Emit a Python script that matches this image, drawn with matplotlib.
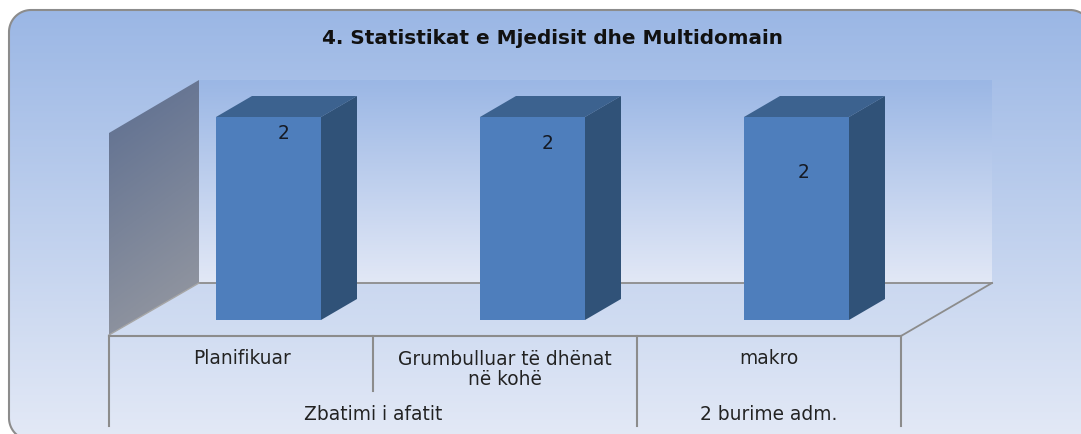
import matplotlib
matplotlib.use("Agg")
import matplotlib.pyplot as plt
import numpy as np
from matplotlib.patches import Polygon

# data
categories = ["Planifikuar", "Grumbulluar të dhënat\nnë kohë", "makro"]
groups = ["Zbatimi i afatit", "2 burime adm."]
values = [2, 2, 2]
title = "4. Statistikat e Mjedisit dhe Multidomain"

W, H = 1081, 434
GRAY = "#8c8c8c"


def rounded(x0, y0, x1, y1, r):
    # outline of a rounded box as plain vertices (curved patches clip badly at the canvas edge)
    t = np.linspace(0, np.pi / 2, 20)
    pts = []
    for cx, cy, a in [(x1 - r, y0 + r, -np.pi / 2), (x1 - r, y1 - r, 0),
                      (x0 + r, y1 - r, np.pi / 2), (x0 + r, y0 + r, np.pi)]:
        pts += list(zip(cx + r * np.cos(a + t), cy + r * np.sin(a + t)))
    return pts


def gradient(ax, patch, x0, x1, y0, y1, top, bottom, angle=0.0):
    # vertical gradient (with a small horizontal slant), clipped to the patch
    t = np.linspace(0, 1, 200)
    xx, yy = np.meshgrid(np.linspace(0, 1, 60), t)
    f = np.clip(yy + angle * (xx - 0.5), 0, 1)[..., None]
    img = np.array(top) / 255 * (1 - f) + np.array(bottom) / 255 * f
    im = ax.imshow(img, extent=(x0, x1, y1, y0), aspect="auto", zorder=patch.get_zorder())
    patch.set_facecolor("none")
    patch.set_edgecolor("none")
    ax.add_patch(patch)
    im.set_clip_path(patch)


fig = plt.figure(figsize=(W / 100, H / 100), dpi=100, facecolor="white")

# pixel layer for the card, the walls and the category table
bg = fig.add_axes([0, 0, 1, 1])
bg.set_axis_off()

outline = rounded(9, 10, 1092, 440, 22)
card = Polygon(outline, closed=True, zorder=1)
gradient(bg, card, 9, 1092, 10, 438, (155, 183, 229), (227, 233, 246))
bg.add_patch(Polygon(outline, closed=True, fc="none", ec=GRAY, lw=1.5, zorder=1.5))

wall = Polygon([(199, 80), (992, 80), (992, 283), (199, 283)], closed=True, zorder=2)
gradient(bg, wall, 199, 992, 80, 283, (155, 183, 229), (226, 232, 246))

left = Polygon([(109, 133), (199, 80), (199, 283), (109, 335)], closed=True, zorder=3)
gradient(bg, left, 109, 199, 80, 335, (98, 114, 146), (146, 150, 160), angle=0.25)

floor = Polygon([(109, 336), (901, 336), (992, 283), (199, 283)], closed=True, zorder=3)
gradient(bg, floor, 109, 992, 283, 336, (203, 216, 240), (209, 221, 242))

bg.plot([199, 992], [283, 283], color=GRAY, lw=1.3, zorder=4)
bg.plot([109, 199], [335, 283], color="#a6a6a6", lw=1.0, zorder=4)
bg.plot([901, 992], [336, 283], color=GRAY, lw=1.3, zorder=4)
bg.plot([109, 901], [336, 336], color=GRAY, lw=1.5, zorder=4)
for x, y_end in zip([109, 373, 637, 901], [426, 391, 426, 426]):
    bg.plot([x, x], [336, y_end], color=GRAY, lw=1.5, zorder=4)

bg.set_xlim(0, W)
bg.set_ylim(H, 0)

font = "DejaVu Sans"
fs = 13.4
bg.text(552, 38, title, ha="center", va="center", fontsize=14.4, fontweight="bold",
        family=font, color="#111111", zorder=6)
for x, lab in zip([242, 505, 769], categories):
    bg.text(x, 369.5 if "\n" in lab else 358, lab, ha="center", va="center", fontsize=fs,
            family=font, color="#222222", linespacing=1.12, zorder=6)
for x, lab in zip([373, 769], groups):
    bg.text(x, 414, lab, ha="center", va="center", fontsize=fs, family=font,
            color="#222222", zorder=6)

# bars, on their own axes: value 0 sits on pixel row 320, value 2 on row 117
ax = fig.add_axes([136.5 / W, (H - 320) / H, 792 / W, 203 / H], zorder=2)
ax.patch.set_alpha(0)
ax.set_axis_off()
ax.set_xlim(-0.5, 2.5)
ax.set_ylim(0, 2)

xs = np.arange(len(values))
bar_w = 105 / 264
dx = 36 / 264
dy = 21 / 101.5
bars = ax.bar(xs, values, width=bar_w, color="#4e7ebc", zorder=3)

label_shift = [(15, -16), (15, -26), (7, -55)]  # the labels were moved by hand in the original
for rect, v, shift in zip(bars, values, label_shift):
    x0, x1 = rect.get_x(), rect.get_x() + rect.get_width()
    ax.add_patch(Polygon([(x0, v), (x0 + dx, v + dy), (x1 + dx, v + dy), (x1, v)],
                         fc="#3c628f", ec="none", clip_on=False, zorder=2))
    ax.add_patch(Polygon([(x1, 0), (x1 + dx, dy), (x1 + dx, v + dy), (x1, v)],
                         fc="#305278", ec="none", clip_on=False, zorder=2))
    ax.annotate(str(v), xy=((x0 + x1) / 2, v), xytext=(shift[0] * 0.72, shift[1] * 0.72),
                textcoords="offset points", ha="center", va="center", fontsize=fs,
                family=font, color="#151a24", zorder=5)

fig.savefig("out.png", dpi=100)
